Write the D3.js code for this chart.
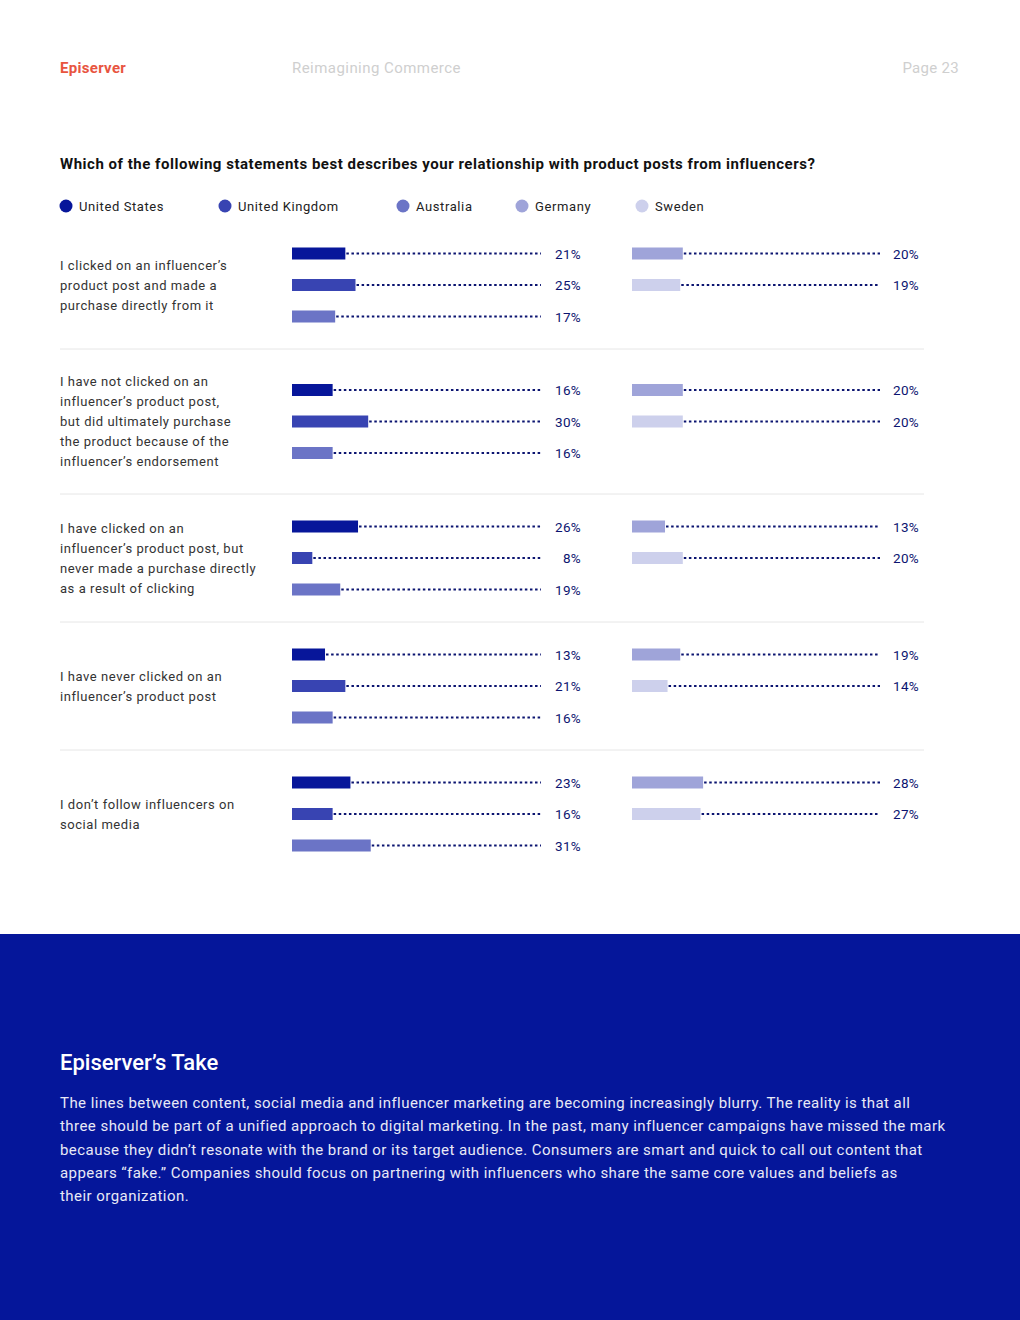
<!DOCTYPE html>
<html>
<head>
<meta charset="utf-8">
<script src="https://cdn.jsdelivr.net/npm/d3@7"></script>
<style>
  html, body { margin: 0; padding: 0; background: #fff; }
  svg { display: block; }
</style>
</head>
<body>
<svg id="chart" width="1020" height="1320"></svg>
<script>
// ---------- DATA ----------
const countries = ["United States", "United Kingdom", "Australia", "Germany", "Sweden"];
const categories = [
  ["I clicked on an influencer’s", "product post and made a", "purchase directly from it"],
  ["I have not clicked on an", "influencer’s product post,", "but did ultimately purchase", "the product because of the", "influencer’s endorsement"],
  ["I have clicked on an", "influencer’s product post, but", "never made a purchase directly", "as a result of clicking"],
  ["I have never clicked on an", "influencer’s product post"],
  ["I don’t follow influencers on", "social media"]
];
const unitedStates = [21, 16, 26, 13, 23];
const unitedKingdom = [25, 30, 8, 21, 16];
const australia = [17, 16, 19, 16, 31];
const germany = [20, 20, 13, 19, 28];
const sweden = [19, 20, 20, 14, 27];
const title = "Which of the following statements best describes your relationship with product posts from influencers?";
const takeTitle = "Episerver’s Take";
const takeLines = [
  "The lines between content, social media and influencer marketing are becoming increasingly blurry. The reality is that all",
  "three should be part of a unified approach to digital marketing. In the past, many influencer campaigns have missed the mark",
  "because they didn’t resonate with the brand or its target audience. Consumers are smart and quick to call out content that",
  "appears “fake.” Companies should focus on partnering with influencers who share the same core values and beliefs as",
  "their organization."
];

// ---------- STYLE ----------
const colors = ["#07169a", "#3844b2", "#6b74c6", "#9fa4d9", "#cdd0ec"];
const navy = "#0b1470";
const font = "Roboto, 'Open Sans', sans-serif";

const svg = d3.select("#chart");

// Header
svg.append("text").attr("x", 60).attr("y", 73).attr("font-family", font).attr("font-size", 15)
  .attr("font-weight", 700).attr("letter-spacing", 0.3).attr("fill", "#e8553f").text("Episerver");
svg.append("text").attr("x", 292).attr("y", 73).attr("font-family", font).attr("font-size", 15)
  .attr("fill", "#cfcfcf").attr("letter-spacing", 0.45).text("Reimagining Commerce");
svg.append("text").attr("x", 959).attr("y", 73).attr("font-family", font).attr("font-size", 15)
  .attr("text-anchor", "end").attr("letter-spacing", 0.3).attr("fill", "#cfcfcf").text("Page 23");

// Title
svg.append("text").attr("x", 60).attr("y", 169).attr("font-family", font).attr("font-size", 15)
  .attr("font-weight", 700).attr("fill", "#111").attr("letter-spacing", 0.52).text(title);

// Legend
const legendX = [66, 225, 403, 522, 642];
const legend = svg.append("g").selectAll("g").data(countries).join("g")
  .attr("transform", (d, i) => `translate(${legendX[i]},206)`);
legend.append("circle").attr("r", 6.5).attr("fill", (d, i) => colors[i]);
legend.append("text").attr("x", 13).attr("y", 5).attr("font-family", font).attr("font-size", 13)
  .attr("letter-spacing", 0.6).attr("fill", "#222").text(d => d);

// Layout of groups
const groupHeights = categories.map(c => Math.max(128, c.length * 20 + 45));
const groupTops = [];
let acc = 221;
groupHeights.forEach(h => { groupTops.push(acc); acc += h; });

const row = d3.scalePoint().domain([0, 1, 2]).range([0, 63]);
const x = d3.scaleLinear().domain([0, 100]).range([0, 254]);
const leftCol = { x0: 292, lineEnd: 541, labelEnd: 581 };
const rightCol = { x0: 632, lineEnd: 880, labelEnd: 919 };
const barH = 12;

const seriesLeft = [unitedStates, unitedKingdom, australia];
const seriesRight = [germany, sweden];

const g = svg.append("g");

categories.forEach((lines, ci) => {
  const top = groupTops[ci];
  const h = groupHeights[ci];
  const firstY = top + (h - 63) / 2;
  const midY = firstY + row(1);

  // label
  const t = g.append("text").attr("font-family", font).attr("font-size", 13).attr("fill", "#333")
    .attr("letter-spacing", 0.55);
  const n = lines.length;
  lines.forEach((ln, li) => {
    t.append("tspan").attr("x", 60).attr("y", midY + (li - (n - 1) / 2) * 20 + 4.5).text(ln);
  });

  // separator
  if (ci < categories.length - 1) {
    g.append("line").attr("x1", 60).attr("x2", 924).attr("y1", top + h).attr("y2", top + h)
      .attr("stroke", "#e6e6e6").attr("stroke-width", 1);
  }

  const drawRow = (col, value, color, ri) => {
    const cy = firstY + row(ri);
    g.append("rect").attr("x", col.x0).attr("y", cy - barH / 2).attr("width", x(value)).attr("height", barH)
      .attr("fill", color);
    g.append("line").attr("x1", col.x0 + x(value) + 1).attr("x2", col.lineEnd).attr("y1", cy).attr("y2", cy)
      .attr("stroke", navy).attr("stroke-width", 2).attr("stroke-dasharray", "2.5,2.6");
    g.append("text").attr("x", col.labelEnd).attr("y", cy + 5).attr("text-anchor", "end")
      .attr("font-family", font).attr("font-size", 13.5).attr("fill", navy).attr("letter-spacing", 0.3)
      .text(value + "%");
  };

  seriesLeft.forEach((s, si) => drawRow(leftCol, s[ci], colors[si], si));
  seriesRight.forEach((s, si) => drawRow(rightCol, s[ci], colors[si + 3], si));
});

// Bottom section
svg.append("rect").attr("x", 0).attr("y", 934).attr("width", 1020).attr("height", 386).attr("fill", "#05169a");
svg.append("text").attr("x", 60).attr("y", 1070).attr("font-family", font).attr("font-size", 22)
  .attr("font-weight", 500).attr("fill", "#fff").text(takeTitle);
const para = svg.append("text").attr("font-family", font).attr("font-size", 15).attr("fill", "#e8e9f6")
  .attr("letter-spacing", 0.45);
takeLines.forEach((ln, i) => {
  para.append("tspan").attr("x", 60).attr("y", 1108 + i * 23.3).text(ln);
});
</script>
</body>
</html>
